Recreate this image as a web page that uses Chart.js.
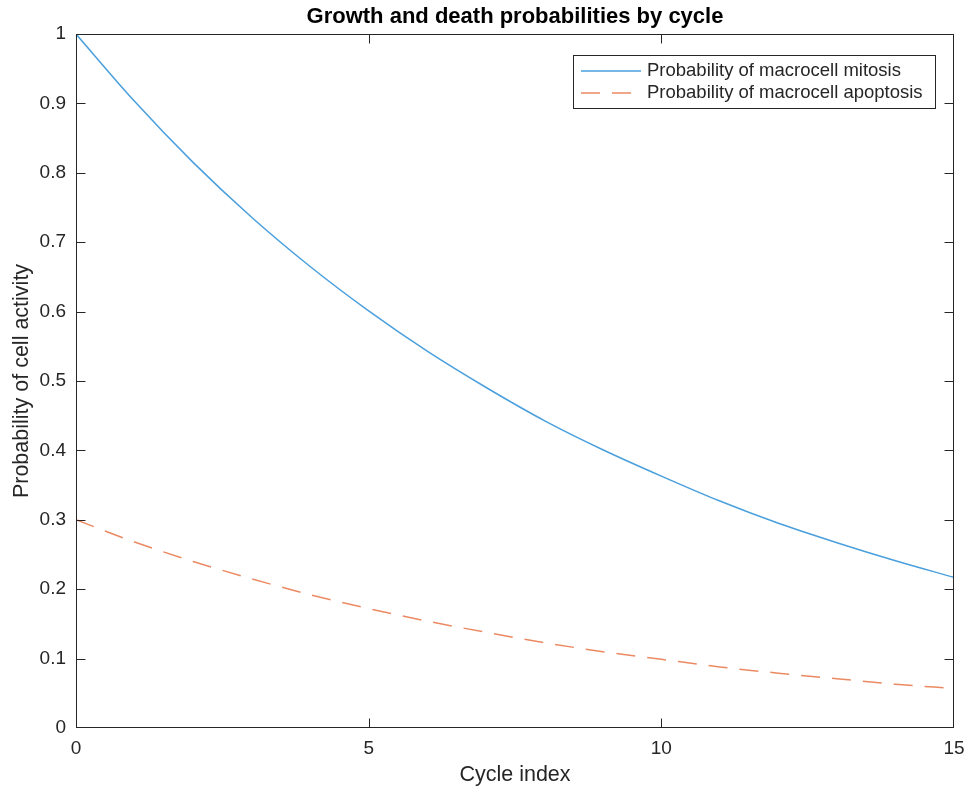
<!DOCTYPE html>
<html>
<head>
<meta charset="utf-8">
<script src="https://cdn.jsdelivr.net/npm/chart.js@4"></script>
<style>
  html, body { margin: 0; padding: 0; background: #fff; }
  #wrap { width: 974px; height: 794px; }
</style>
</head>
<body>
<div id="wrap"><canvas id="grafico"></canvas></div>
<script>
const cycles = [0, 1, 2, 3, 4, 5, 6, 7, 8, 9, 10, 11, 12, 13, 14, 15];
const mitosis = [1.000, 0.903, 0.815, 0.736, 0.665, 0.601, 0.543, 0.491, 0.443, 0.401, 0.363, 0.327, 0.295, 0.267, 0.241, 0.217];
const apoptosis = [0.300, 0.268, 0.240, 0.215, 0.192, 0.172, 0.154, 0.138, 0.123, 0.110, 0.099, 0.088, 0.079, 0.071, 0.063, 0.057];
const seriesNames = ['Probability of macrocell mitosis', 'Probability of macrocell apoptosis'];
const xTicks = [0, 5, 10, 15];
const yTicks = [0, 0.1, 0.2, 0.3, 0.4, 0.5, 0.6, 0.7, 0.8, 0.9, 1];
const chartTitle = 'Growth and death probabilities by cycle';
const FONT = '"Liberation Sans", Arial, Helvetica, sans-serif';
const INK = '#262626';

// caixa, ticks para dentro, título e legenda no estilo MATLAB
const matlabBox = {
  id: 'matlabBox',
  afterDraw(chart) {
    const { ctx, chartArea: a, scales: { x, y } } = chart;
    ctx.save();
    ctx.strokeStyle = '#262626';
    ctx.lineWidth = 1;
    const L = Math.round(a.left) + 0.5, R = Math.round(a.right) - 0.5;
    const T = Math.round(a.top) + 0.5, B = Math.round(a.bottom) - 0.5;
    ctx.strokeRect(L, T, R - L, B - T);
    const t = 9;
    ctx.beginPath();
    xTicks.forEach(v => {
      const px = Math.min(Math.round(x.getPixelForValue(v)) + 0.5, R);
      ctx.moveTo(px, B); ctx.lineTo(px, B - t);
      ctx.moveTo(px, T); ctx.lineTo(px, T + t);
    });
    yTicks.forEach(v => {
      const py = Math.max(Math.min(Math.round(y.getPixelForValue(v)) + 0.5, B), T);
      ctx.moveTo(L, py); ctx.lineTo(L + t, py);
      ctx.moveTo(R, py); ctx.lineTo(R - t, py);
    });
    ctx.stroke();

    // título
    ctx.fillStyle = '#000';
    ctx.font = 'bold 22px ' + FONT;
    ctx.textAlign = 'center';
    ctx.textBaseline = 'middle';
    ctx.fillText(chartTitle, (a.left + a.right) / 2, 17);

    // legenda
    const bx = 573, by = 55, bw = 362, bh = 53;
    ctx.fillStyle = '#fff';
    ctx.fillRect(bx, by, bw, bh);
    ctx.strokeStyle = '#262626';
    ctx.strokeRect(bx + 0.5, by + 0.5, bw, bh);
    ctx.font = '18.5px ' + FONT;
    ctx.textAlign = 'left';
    chart.data.datasets.forEach((ds, i) => {
      const ly = 71 + i * 22;
      ctx.strokeStyle = ds.borderColor;
      ctx.lineWidth = ds.borderWidth;
      ctx.setLineDash(ds.borderDash || []);
      ctx.beginPath();
      ctx.moveTo(581, ly); ctx.lineTo(641, ly);
      ctx.stroke();
      ctx.setLineDash([]);
      ctx.fillStyle = INK;
      ctx.fillText(ds.label, 647, ly);
    });
    ctx.restore();
  }
};

const ctx = document.getElementById('grafico').getContext('2d');
new Chart(ctx, {
  type: 'line',
  data: {
    labels: cycles,
    datasets: [
      {
        label: seriesNames[0],
        data: cycles.map((c, i) => ({ x: c, y: mitosis[i] })),
        borderColor: '#4a9fdc',
        borderWidth: 1.5,
        pointRadius: 0,
        cubicInterpolationMode: 'monotone',
        fill: false
      },
      {
        label: seriesNames[1],
        data: cycles.map((c, i) => ({ x: c, y: apoptosis[i] })),
        borderColor: '#eb8a62',
        borderWidth: 1.5,
        borderDash: [19, 12],
        pointRadius: 0,
        cubicInterpolationMode: 'monotone',
        fill: false
      }
    ]
  },
  options: {
    responsive: true,
    maintainAspectRatio: false,
    animation: false,
    devicePixelRatio: 1,
    layout: { padding: { top: 34, right: 20, left: 0, bottom: 0 } },
    plugins: {
      legend: { display: false },
      title: { display: false },
      tooltip: { enabled: false }
    },
    scales: {
      x: {
        type: 'linear',
        min: 0,
        max: 15,
        afterFit: s => { s.height = 66; },
        afterBuildTicks: s => { s.ticks = xTicks.map(v => ({ value: v })); },
        grid: { display: false, drawTicks: false },
        border: { display: false },
        ticks: {
          padding: 9,
          color: INK,
          font: { family: FONT, size: 19 },
          maxRotation: 0,
          callback: v => String(v)
        },
        title: {
          display: true,
          text: 'Cycle index',
          color: INK,
          font: { family: FONT, size: 21.5 },
          padding: { top: 0, bottom: 6 }
        }
      },
      y: {
        type: 'linear',
        min: 0,
        max: 1,
        afterFit: s => { s.width = 76; },
        afterBuildTicks: s => { s.ticks = yTicks.map(v => ({ value: v })); },
        grid: { display: false, drawTicks: false },
        border: { display: false },
        ticks: {
          padding: 10,
          color: INK,
          font: { family: FONT, size: 19 },
          callback: v => String(+v.toFixed(1))
        },
        title: {
          display: true,
          text: 'Probability of cell activity',
          color: INK,
          font: { family: FONT, size: 21.5 },
          padding: { top: 9, bottom: 0 }
        }
      }
    }
  },
  plugins: [matlabBox]
});
</script>
</body>
</html>
